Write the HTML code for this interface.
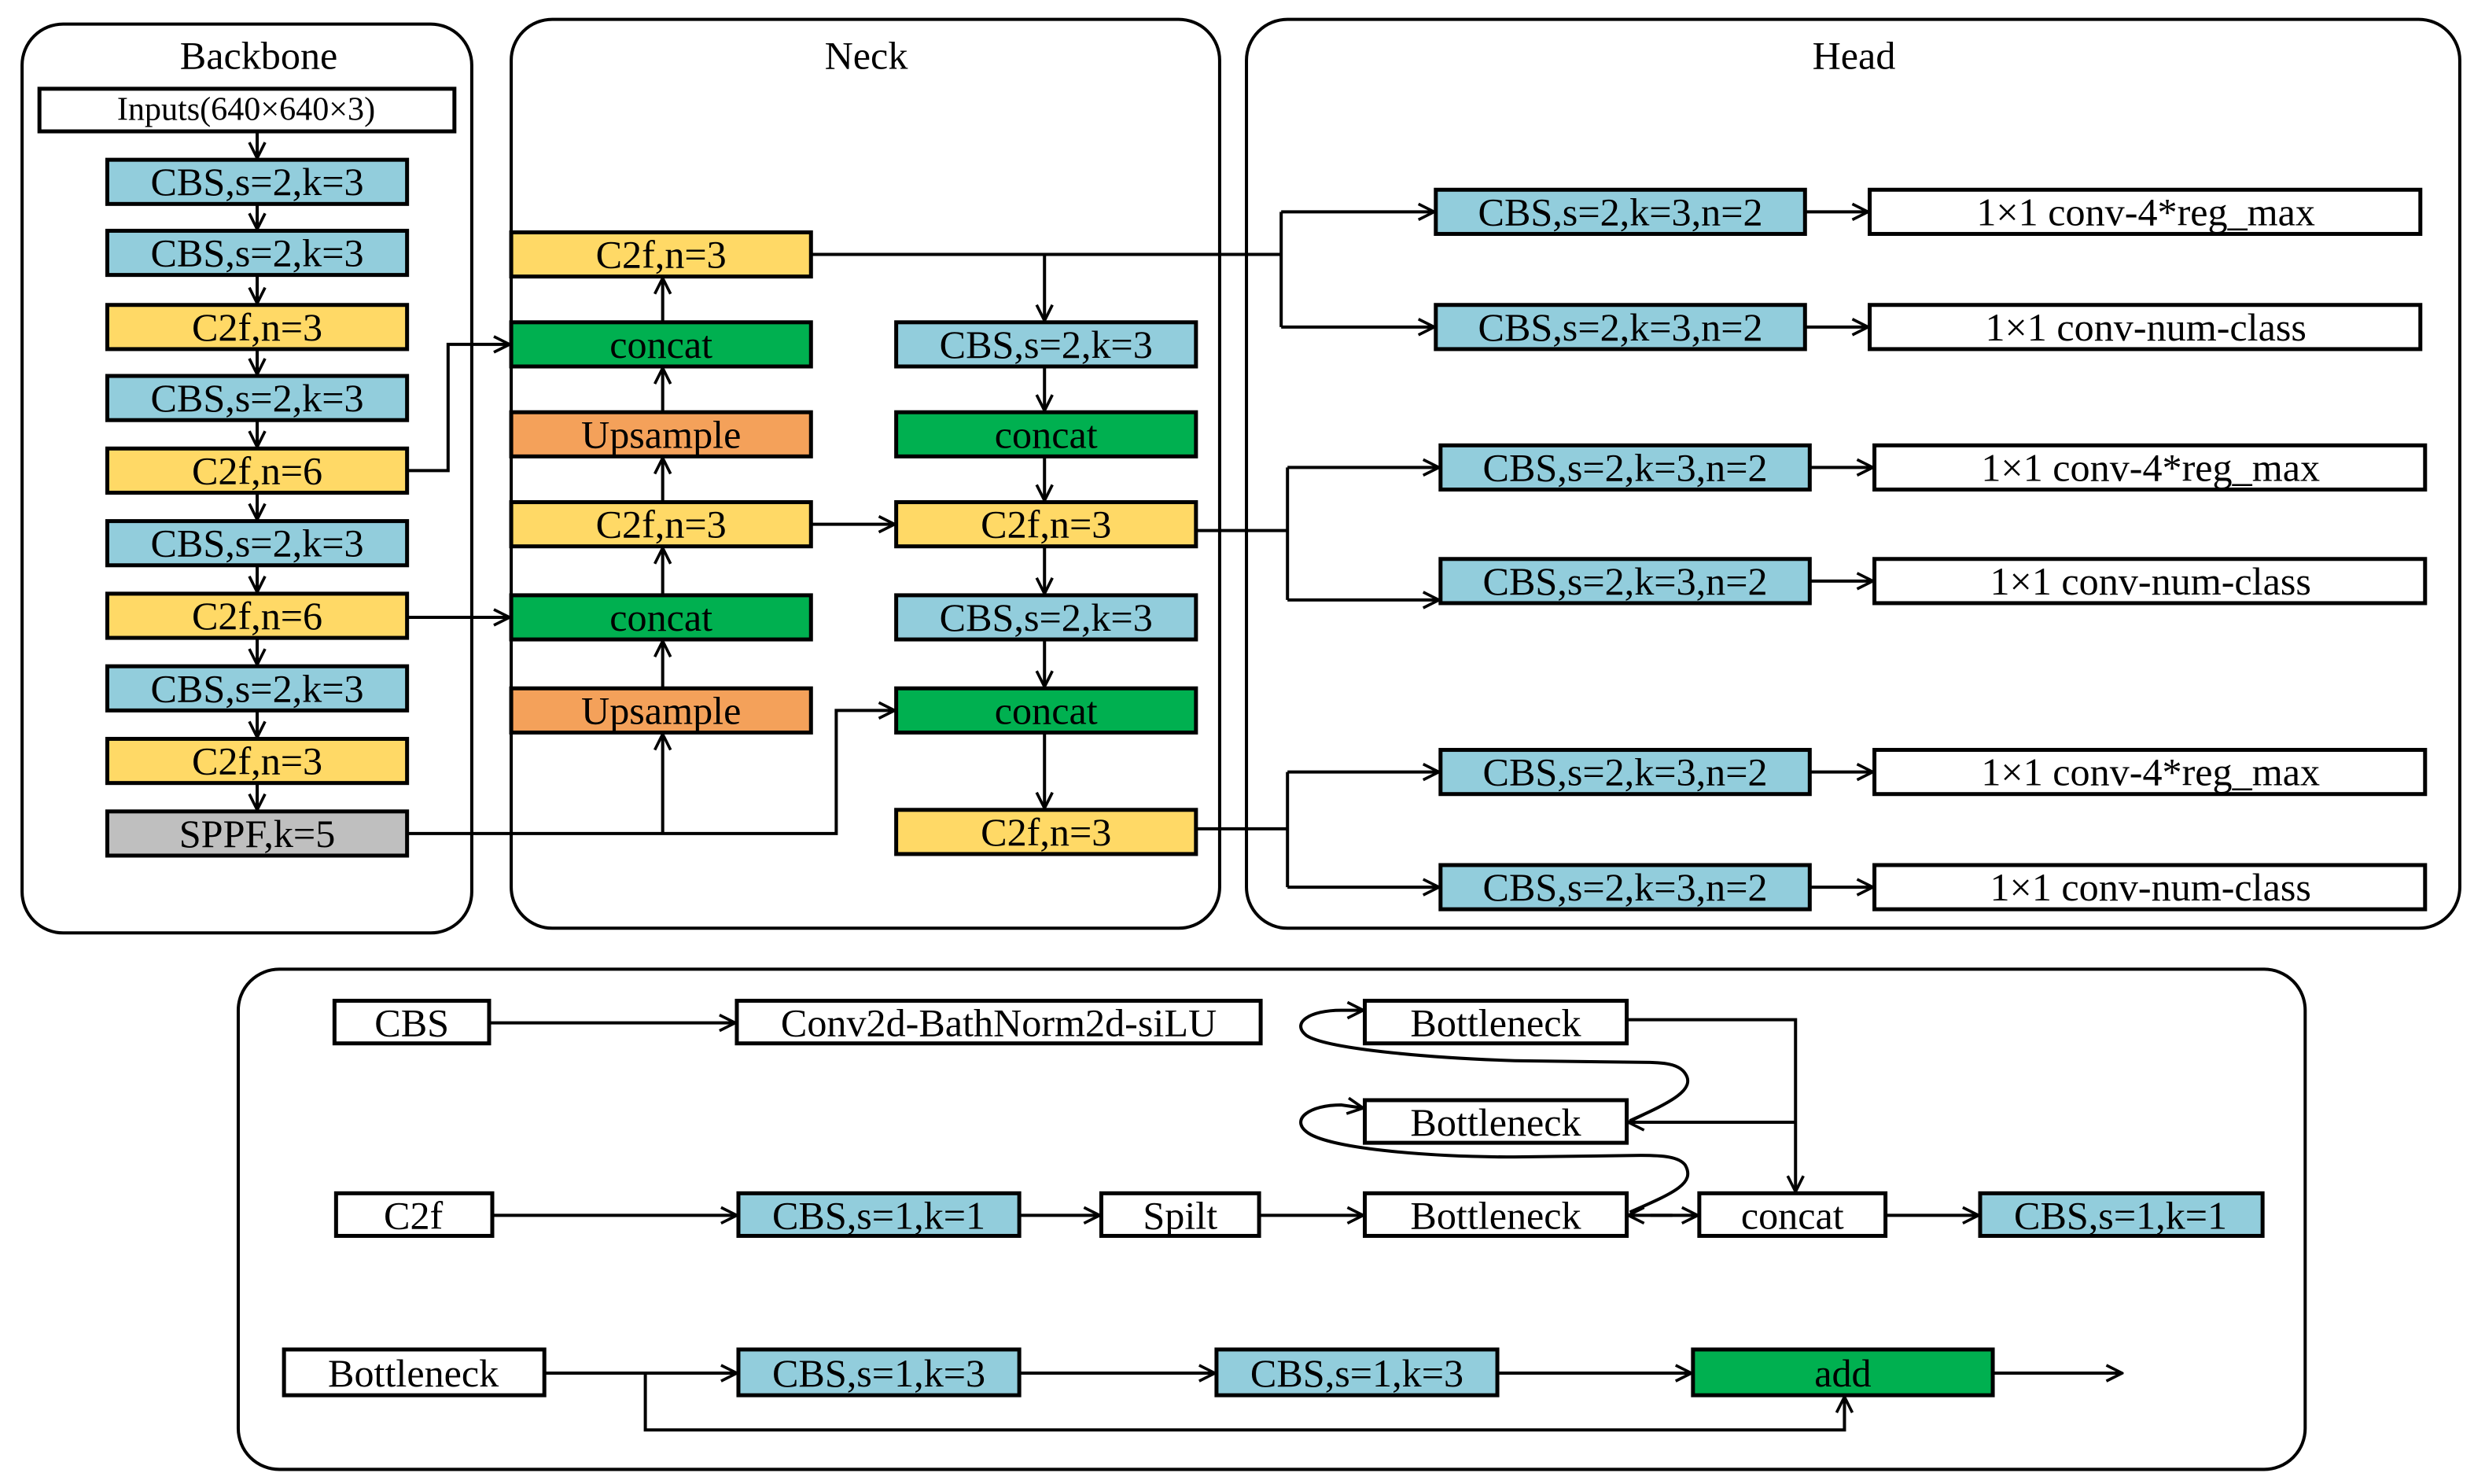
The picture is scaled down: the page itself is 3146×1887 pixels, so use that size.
<!DOCTYPE html>
<html><head><meta charset="utf-8"><style>
html,body{margin:0;padding:0;background:#fff;}
svg{display:block;}
text{font-family:"Liberation Serif",serif;font-size:25px;text-anchor:middle;dominant-baseline:central;fill:#000;}
</style></head><body>
<svg width="3146" height="1887" viewBox="0 0 1568 940" xmlns="http://www.w3.org/2000/svg">
<defs>
<marker id="a" viewBox="0 0 12 12" refX="11" refY="6" markerWidth="12" markerHeight="12" markerUnits="userSpaceOnUse" orient="auto">
<polyline points="1,1 11,6 1,11" fill="none" stroke="#000" stroke-width="1.8"/>
</marker>
</defs>
<g fill="none" stroke="#000" stroke-width="2">
<rect x="14" y="15" width="285" height="576" rx="26"/>
<rect x="324" y="12" width="449" height="576" rx="26"/>
<rect x="790" y="12" width="769" height="576" rx="26"/>
<rect x="151" y="614" width="1310" height="317" rx="26"/>
</g>
<text x="164" y="35">Backbone</text>
<text x="549" y="35">Neck</text>
<text x="1175" y="35">Head</text>

<g stroke="#000" stroke-width="2.5">
<rect x="25" y="56" width="263" height="27" fill="#fff"/>
<rect x="68" y="101" width="190" height="28" fill="#92CDDC"/>
<rect x="68" y="146" width="190" height="28" fill="#92CDDC"/>
<rect x="68" y="193" width="190" height="28" fill="#FFD966"/>
<rect x="68" y="238" width="190" height="28" fill="#92CDDC"/>
<rect x="68" y="284" width="190" height="28" fill="#FFD966"/>
<rect x="68" y="330" width="190" height="28" fill="#92CDDC"/>
<rect x="68" y="376" width="190" height="28" fill="#FFD966"/>
<rect x="68" y="422" width="190" height="28" fill="#92CDDC"/>
<rect x="68" y="468" width="190" height="28" fill="#FFD966"/>
<rect x="68" y="514" width="190" height="28" fill="#BFBFBF"/>

<rect x="324" y="147" width="190" height="28" fill="#FFD966"/>
<rect x="324" y="204" width="190" height="28" fill="#00B050"/>
<rect x="324" y="261" width="190" height="28" fill="#F4A15A"/>
<rect x="324" y="318" width="190" height="28" fill="#FFD966"/>
<rect x="324" y="377" width="190" height="28" fill="#00B050"/>
<rect x="324" y="436" width="190" height="28" fill="#F4A15A"/>

<rect x="568" y="204" width="190" height="28" fill="#92CDDC"/>
<rect x="568" y="261" width="190" height="28" fill="#00B050"/>
<rect x="568" y="318" width="190" height="28" fill="#FFD966"/>
<rect x="568" y="377" width="190" height="28" fill="#92CDDC"/>
<rect x="568" y="436" width="190" height="28" fill="#00B050"/>
<rect x="568" y="513" width="190" height="28" fill="#FFD966"/>

<rect x="910" y="120" width="234" height="28" fill="#92CDDC"/>
<rect x="1185" y="120" width="349" height="28" fill="#fff"/>
<rect x="910" y="193" width="234" height="28" fill="#92CDDC"/>
<rect x="1185" y="193" width="349" height="28" fill="#fff"/>
<rect x="913" y="282" width="234" height="28" fill="#92CDDC"/>
<rect x="1188" y="282" width="349" height="28" fill="#fff"/>
<rect x="913" y="354" width="234" height="28" fill="#92CDDC"/>
<rect x="1188" y="354" width="349" height="28" fill="#fff"/>
<rect x="913" y="475" width="234" height="28" fill="#92CDDC"/>
<rect x="1188" y="475" width="349" height="28" fill="#fff"/>
<rect x="913" y="548" width="234" height="28" fill="#92CDDC"/>
<rect x="1188" y="548" width="349" height="28" fill="#fff"/>

<rect x="212" y="634" width="98" height="27" fill="#fff"/>
<rect x="467" y="634" width="332" height="27" fill="#fff"/>
<rect x="865" y="634" width="166" height="27" fill="#fff"/>
<rect x="865" y="697" width="166" height="27" fill="#fff"/>
<rect x="213" y="756" width="99" height="27" fill="#fff"/>
<rect x="468" y="756" width="178" height="27" fill="#92CDDC"/>
<rect x="698" y="756" width="100" height="27" fill="#fff"/>
<rect x="865" y="756" width="166" height="27" fill="#fff"/>
<rect x="1077" y="756" width="118" height="27" fill="#fff"/>
<rect x="1255" y="756" width="179" height="27" fill="#92CDDC"/>
<rect x="180" y="855" width="165" height="29" fill="#fff"/>
<rect x="468" y="855" width="178" height="29" fill="#92CDDC"/>
<rect x="771" y="855" width="178" height="29" fill="#92CDDC"/>
<rect x="1073" y="855" width="190" height="29" fill="#00B050"/>
</g>

<g>
<text x="156" y="69" style="font-size:21px">Inputs(640×640×3)</text>
<text x="163" y="115">CBS,s=2,k=3</text>
<text x="163" y="160">CBS,s=2,k=3</text>
<text x="163" y="207">C2f,n=3</text>
<text x="163" y="252">CBS,s=2,k=3</text>
<text x="163" y="298">C2f,n=6</text>
<text x="163" y="344">CBS,s=2,k=3</text>
<text x="163" y="390">C2f,n=6</text>
<text x="163" y="436">CBS,s=2,k=3</text>
<text x="163" y="482">C2f,n=3</text>
<text x="163" y="528">SPPF,k=5</text>
<text x="419" y="161">C2f,n=3</text>
<text x="419" y="218">concat</text>
<text x="419" y="275">Upsample</text>
<text x="419" y="332">C2f,n=3</text>
<text x="419" y="391">concat</text>
<text x="419" y="450">Upsample</text>
<text x="663" y="218">CBS,s=2,k=3</text>
<text x="663" y="275">concat</text>
<text x="663" y="332">C2f,n=3</text>
<text x="663" y="391">CBS,s=2,k=3</text>
<text x="663" y="450">concat</text>
<text x="663" y="527">C2f,n=3</text>
<text x="1027" y="134">CBS,s=2,k=3,n=2</text>
<text x="1360" y="134">1×1 conv-4*reg_max</text>
<text x="1027" y="207">CBS,s=2,k=3,n=2</text>
<text x="1360" y="207">1×1 conv-num-class</text>
<text x="1030" y="296">CBS,s=2,k=3,n=2</text>
<text x="1363" y="296">1×1 conv-4*reg_max</text>
<text x="1030" y="368">CBS,s=2,k=3,n=2</text>
<text x="1363" y="368">1×1 conv-num-class</text>
<text x="1030" y="489">CBS,s=2,k=3,n=2</text>
<text x="1363" y="489">1×1 conv-4*reg_max</text>
<text x="1030" y="562">CBS,s=2,k=3,n=2</text>
<text x="1363" y="562">1×1 conv-num-class</text>
<text x="261" y="648">CBS</text>
<text x="633" y="648">Conv2d-BathNorm2d-siLU</text>
<text x="948" y="648">Bottleneck</text>
<text x="948" y="711">Bottleneck</text>
<text x="262" y="770">C2f</text>
<text x="557" y="770">CBS,s=1,k=1</text>
<text x="748" y="770">Spilt</text>
<text x="948" y="770">Bottleneck</text>
<text x="1136" y="770">concat</text>
<text x="1344" y="770">CBS,s=1,k=1</text>
<text x="262" y="870">Bottleneck</text>
<text x="557" y="870">CBS,s=1,k=3</text>
<text x="860" y="870">CBS,s=1,k=3</text>
<text x="1168" y="870">add</text>
</g>

<g fill="none" stroke="#000" stroke-width="2">
<line x1="163" y1="83" x2="163" y2="100" marker-end="url(#a)"/>
<line x1="163" y1="129" x2="163" y2="145" marker-end="url(#a)"/>
<line x1="163" y1="174" x2="163" y2="192" marker-end="url(#a)"/>
<line x1="163" y1="221" x2="163" y2="237" marker-end="url(#a)"/>
<line x1="163" y1="266" x2="163" y2="283" marker-end="url(#a)"/>
<line x1="163" y1="312" x2="163" y2="329" marker-end="url(#a)"/>
<line x1="163" y1="358" x2="163" y2="375" marker-end="url(#a)"/>
<line x1="163" y1="404" x2="163" y2="421" marker-end="url(#a)"/>
<line x1="163" y1="450" x2="163" y2="467" marker-end="url(#a)"/>
<line x1="163" y1="496" x2="163" y2="513" marker-end="url(#a)"/>
<polyline points="258,298 284,298 284,218 323,218" marker-end="url(#a)"/>
<line x1="258" y1="391" x2="323" y2="391" marker-end="url(#a)"/>
<polyline points="258,528 530,528 530,450 567,450" marker-end="url(#a)"/>
<line x1="420" y1="528" x2="420" y2="465" marker-end="url(#a)"/>
<line x1="420" y1="436" x2="420" y2="406" marker-end="url(#a)"/>
<line x1="420" y1="377" x2="420" y2="347" marker-end="url(#a)"/>
<line x1="420" y1="318" x2="420" y2="290" marker-end="url(#a)"/>
<line x1="420" y1="261" x2="420" y2="233" marker-end="url(#a)"/>
<line x1="420" y1="204" x2="420" y2="176" marker-end="url(#a)"/>
<line x1="514" y1="332" x2="567" y2="332" marker-end="url(#a)"/>
<polyline points="514,161 812,161"/>
<line x1="662" y1="161" x2="662" y2="203" marker-end="url(#a)"/>
<line x1="662" y1="232" x2="662" y2="260" marker-end="url(#a)"/>
<line x1="662" y1="289" x2="662" y2="317" marker-end="url(#a)"/>
<line x1="662" y1="346" x2="662" y2="376" marker-end="url(#a)"/>
<line x1="662" y1="405" x2="662" y2="435" marker-end="url(#a)"/>
<line x1="662" y1="464" x2="662" y2="512" marker-end="url(#a)"/>
<polyline points="812,134 812,207"/>
<line x1="812" y1="134" x2="909" y2="134" marker-end="url(#a)"/>
<line x1="812" y1="207" x2="909" y2="207" marker-end="url(#a)"/>
<line x1="1144" y1="134" x2="1184" y2="134" marker-end="url(#a)"/>
<line x1="1144" y1="207" x2="1184" y2="207" marker-end="url(#a)"/>
<line x1="758" y1="336" x2="816" y2="336"/>
<polyline points="816,296 816,380"/>
<line x1="816" y1="296" x2="912" y2="296" marker-end="url(#a)"/>
<line x1="816" y1="380" x2="912" y2="380" marker-end="url(#a)"/>
<line x1="1147" y1="296" x2="1187" y2="296" marker-end="url(#a)"/>
<line x1="1147" y1="368" x2="1187" y2="368" marker-end="url(#a)"/>
<line x1="758" y1="525" x2="816" y2="525"/>
<polyline points="816,489 816,562"/>
<line x1="816" y1="489" x2="912" y2="489" marker-end="url(#a)"/>
<line x1="816" y1="562" x2="912" y2="562" marker-end="url(#a)"/>
<line x1="1147" y1="489" x2="1187" y2="489" marker-end="url(#a)"/>
<line x1="1147" y1="562" x2="1187" y2="562" marker-end="url(#a)"/>
<line x1="310" y1="648" x2="466" y2="648" marker-end="url(#a)"/>
<line x1="312" y1="770" x2="467" y2="770" marker-end="url(#a)"/>
<line x1="646" y1="770" x2="697" y2="770" marker-end="url(#a)"/>
<line x1="798" y1="770" x2="864" y2="770" marker-end="url(#a)"/>
<line x1="1046" y1="770" x2="1076" y2="770" marker-end="url(#a)"/>
<line x1="1060" y1="770" x2="1032" y2="770" marker-end="url(#a)"/>
<line x1="1195" y1="770" x2="1254" y2="770" marker-end="url(#a)"/>
<polyline points="1031,646 1138,646 1138,755" marker-end="url(#a)"/>
<line x1="1138" y1="711" x2="1032" y2="711" marker-end="url(#a)"/>
<path d="M1033,710 C1060,698 1075,690 1068,680 C1064,674 1055,673 1040,673 L960,672 C900,670 840,664 828,656 C818,648 830,640 850,640 L864,640" marker-end="url(#a)"/>
<path d="M1033,768 C1060,756 1075,750 1068,738 C1064,733 1055,732 1040,732 L960,733 C900,733 840,727 828,717 C818,709 830,700 850,700 L864,702" marker-end="url(#a)"/>
<line x1="345" y1="870" x2="467" y2="870" marker-end="url(#a)"/>
<line x1="646" y1="870" x2="770" y2="870" marker-end="url(#a)"/>
<line x1="949" y1="870" x2="1072" y2="870" marker-end="url(#a)"/>
<line x1="1263" y1="870" x2="1345" y2="870" marker-end="url(#a)"/>
<polyline points="409,870 409,906 1169,906 1169,885" marker-end="url(#a)"/>
</g>
</svg>
</body></html>
